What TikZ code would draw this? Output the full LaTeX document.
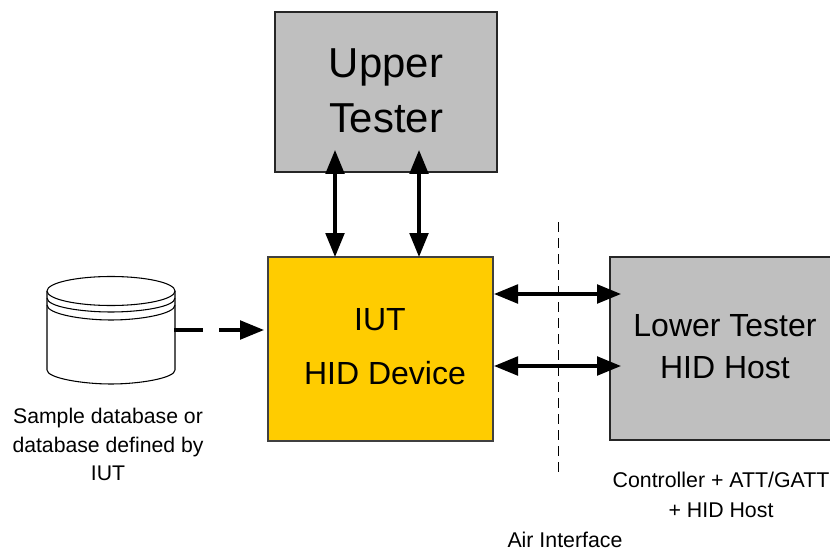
\documentclass[tikz,border=0pt]{standalone}
\usepackage{fontspec}
\setmainfont{Liberation Sans}
\usetikzlibrary{arrows.meta}
\begin{document}
\begin{tikzpicture}[x=0.75pt,y=-0.75pt,
  graybox/.style={draw=black!85,line width=0.9pt,fill=black!25,anchor=north west,inner sep=0pt,outer sep=0pt},
  iutbox/.style={draw=black!75,line width=0.9pt,fill={rgb,255:red,255;green,204;blue,0},anchor=north west,inner sep=0pt,outer sep=0pt},
  bigtxt/.style={font=\fontsize{31.4pt}{41.5pt}\selectfont,align=center,inner sep=0pt},
  midtxt/.style={font=\fontsize{24pt}{26pt}\selectfont,align=center,inner sep=0pt},
  smalltxt/.style={font=\fontsize{15.9pt}{21.5pt}\selectfont,align=center,inner sep=0pt},
  ctltxtstyle/.style={font=\fontsize{16pt}{22.5pt}\selectfont,align=center,inner sep=0pt},
  link/.style={line width=2.5pt,{Triangle[length=18pt,width=14pt]}-{Triangle[length=18pt,width=14pt]}},
  feed/.style={line width=2.5pt,dash pattern=on 22pt off 12pt on 40pt,-{Triangle[length=18pt,width=14pt]}},
  db/.style={line width=0.8pt,draw=black}]
\useasboundingbox (0,0) rectangle (830,552);
\clip (0,0) rectangle (830,552);
% boxes
\node[graybox,minimum width=222*0.75pt,minimum height=160*0.75pt] (upper) at (275,12) {};
\node[iutbox,minimum width=225*0.75pt,minimum height=184*0.75pt] (iut) at (268,257) {};
\node[graybox,minimum width=225*0.75pt,minimum height=183*0.75pt] (lower) at (610,257) {};
% anchor coordinates
\coordinate (u1) at (335,150); \coordinate (i1) at (335,257);
\coordinate (u2) at (419,150); \coordinate (i2) at (419,257);
\coordinate (r1) at (494,294); \coordinate (l1) at (621,294);
\coordinate (r2) at (494,366); \coordinate (l2) at (621,366);
\coordinate (airtop) at (558,222); \coordinate (airbot) at (558,475);
\coordinate (dbout) at (174,330); \coordinate (iutin) at (264,330);
% air interface
\draw[line width=0.7pt,dash pattern=on 7.5pt off 4.5pt] (airtop) -- (airbot);
% arrows
\draw[link] (u1) -- (i1);
\draw[link] (u2) -- (i2);
\draw[link] (r1) -- (l1);
\draw[link] (r2) -- (l2);
% database
\draw[db,fill=white] (47,291) -- (47,370) .. controls (47,378) and (82,384) .. (111,384) .. controls (140,384) and (175,378) .. (175,370) -- (175,291);
\draw[db] (47,298) .. controls (47,307) and (82,312) .. (111,312) .. controls (140,312) and (175,307) .. (175,298);
\draw[db] (47,305) .. controls (47,314) and (82,320) .. (111,320) .. controls (140,320) and (175,314) .. (175,305);
\draw[db,fill=white] (111,291) ellipse [x radius=64,y radius=14.5];
\draw[feed] (dbout) -- (iutin);
% text
\node[bigtxt] (utxt) at (386,90.5) {Upper\\Tester};
\node[midtxt] (iuttxt) at (380,320) {IUT};
\node[midtxt] (hidtxt) at (385,373) {HID Device};
\node[midtxt] (lowtxt) at (725,326) {Lower Tester};
\node[midtxt] (hosttxt) at (725,368) {HID Host};
\node[smalltxt] (dbtxt) at (108,444.5) {Sample database or\\database defined by\\IUT};
\node[ctltxtstyle] (ctltxt) at (721,495) {Controller + ATT/GATT\\+ HID Host};
\node[ctltxtstyle] (airtxt) at (565,540) {Air Interface};
\end{tikzpicture}
\end{document}
